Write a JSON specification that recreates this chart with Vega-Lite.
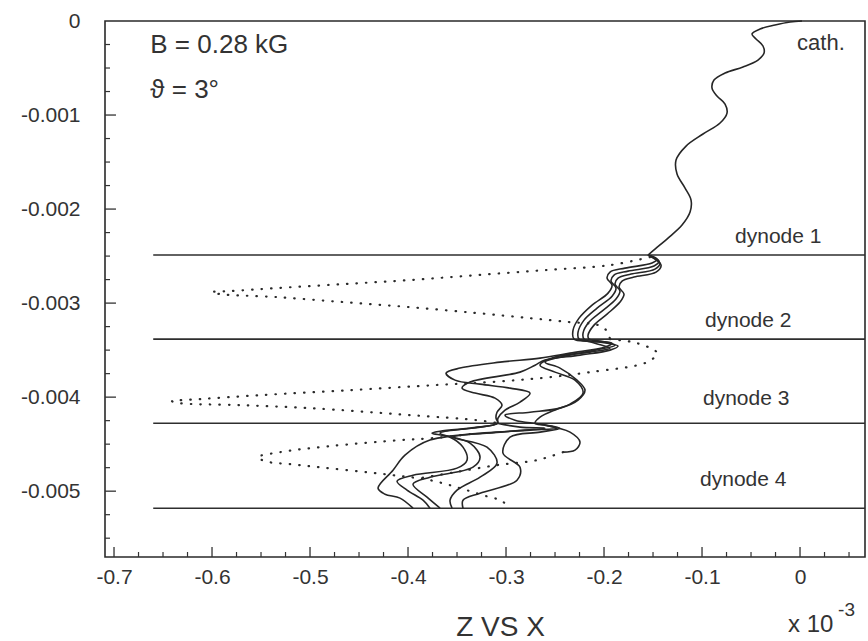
{
"$schema": "https://vega.github.io/schema/vega-lite/v6.json",
"width": 760, "height": 536,
"autosize": "none",
"padding": {"left": 105, "top": 21, "right": 3, "bottom": 84},
"background": "#ffffff",
"config": {"view": {"stroke": "#2a2a2a", "strokeWidth": 1.6}, "font": "Liberation Sans"},
"datasets": {
"dyn": [
{"x1": -0.66, "x2": 0.0663, "y": -0.002489},
{"x1": -0.66, "x2": 0.0663, "y": -0.003383},
{"x1": -0.66, "x2": 0.0663, "y": -0.004277},
{"x1": -0.66, "x2": 0.0663, "y": -0.005181}
],
"xmaj": [{"v": -0.7}, {"v": -0.6}, {"v": -0.5}, {"v": -0.4}, {"v": -0.3}, {"v": -0.2}, {"v": -0.1}, {"v": 0}],
"xmin": [{"v": -0.675}, {"v": -0.65}, {"v": -0.625}, {"v": -0.575}, {"v": -0.55}, {"v": -0.525}, {"v": -0.475}, {"v": -0.45}, {"v": -0.425}, {"v": -0.375}, {"v": -0.35}, {"v": -0.325}, {"v": -0.275}, {"v": -0.25}, {"v": -0.225}, {"v": -0.175}, {"v": -0.15}, {"v": -0.125}, {"v": -0.075}, {"v": -0.05}, {"v": -0.025}, {"v": 0.025}, {"v": 0.05}],
"ymaj": [{"v": -0.001}, {"v": -0.002}, {"v": -0.003}, {"v": -0.004}, {"v": -0.005}],
"ymin": [{"v": -0.00025}, {"v": -0.0005}, {"v": -0.00075}, {"v": -0.00125}, {"v": -0.0015}, {"v": -0.00175}, {"v": -0.00225}, {"v": -0.0025}, {"v": -0.00275}, {"v": -0.00325}, {"v": -0.0035}, {"v": -0.00375}, {"v": -0.00425}, {"v": -0.0045}, {"v": -0.00475}, {"v": -0.00525}, {"v": -0.0055}],
"info": [
{"x": -0.663, "y": -0.00034, "t": "B = 0.28 kG"},
{"x": -0.663, "y": -0.000819, "t": "ϑ = 3°"}
],
"cath": [{"x": -0.003, "y": -0.000309, "t": "cath."}],
"dlab": [
{"x": -0.0663, "y": -0.002362, "t": "dynode 1"},
{"x": -0.0969, "y": -0.003255, "t": "dynode 2"},
{"x": -0.099, "y": -0.004085, "t": "dynode 3"},
{"x": -0.102, "y": -0.004947, "t": "dynode 4"}
],
"mult": [{"x": -0.0122, "y": -0.0065, "t": "x 10"}],
"expo": [{"x": 0.0388, "y": -0.00633, "t": "-3"}],
"traj": [
{"id":"t0","kind":"solid","o":1,"x":0.002,"y":0},
{"id":"t0","kind":"solid","o":2,"x":-0.0102,"y":-0.0000106},
{"id":"t0","kind":"solid","o":3,"x":-0.0255,"y":-0.0000426},
{"id":"t0","kind":"solid","o":4,"x":-0.0408,"y":-0.0000851},
{"id":"t0","kind":"solid","o":5,"x":-0.049,"y":-0.000138},
{"id":"t0","kind":"solid","o":6,"x":-0.0449,"y":-0.000191},
{"id":"t0","kind":"solid","o":7,"x":-0.0378,"y":-0.000266},
{"id":"t0","kind":"solid","o":8,"x":-0.0367,"y":-0.00034},
{"id":"t0","kind":"solid","o":9,"x":-0.0429,"y":-0.000415},
{"id":"t0","kind":"solid","o":10,"x":-0.0582,"y":-0.000489},
{"id":"t0","kind":"solid","o":11,"x":-0.0765,"y":-0.000553},
{"id":"t0","kind":"solid","o":12,"x":-0.0878,"y":-0.000628},
{"id":"t0","kind":"solid","o":13,"x":-0.0898,"y":-0.000713},
{"id":"t0","kind":"solid","o":14,"x":-0.0847,"y":-0.000798},
{"id":"t0","kind":"solid","o":15,"x":-0.0765,"y":-0.000883},
{"id":"t0","kind":"solid","o":16,"x":-0.0745,"y":-0.000979},
{"id":"t0","kind":"solid","o":17,"x":-0.0816,"y":-0.001085},
{"id":"t0","kind":"solid","o":18,"x":-0.099,"y":-0.001202},
{"id":"t0","kind":"solid","o":19,"x":-0.1163,"y":-0.00133},
{"id":"t0","kind":"solid","o":20,"x":-0.1265,"y":-0.001479},
{"id":"t0","kind":"solid","o":21,"x":-0.1255,"y":-0.001628},
{"id":"t0","kind":"solid","o":22,"x":-0.1173,"y":-0.001777},
{"id":"t0","kind":"solid","o":23,"x":-0.1112,"y":-0.001904},
{"id":"t0","kind":"solid","o":24,"x":-0.1122,"y":-0.002032},
{"id":"t0","kind":"solid","o":25,"x":-0.1204,"y":-0.00217},
{"id":"t0","kind":"solid","o":26,"x":-0.1347,"y":-0.002309},
{"id":"t0","kind":"solid","o":27,"x":-0.148,"y":-0.002426},
{"id":"t0","kind":"solid","o":28,"x":-0.1551,"y":-0.002489},

{"id":"s0","kind":"solid","o":1,"x":-0.1551,"y":-0.002489},
{"id":"s0","kind":"solid","o":2,"x":-0.1459,"y":-0.002532},
{"id":"s0","kind":"solid","o":3,"x":-0.151,"y":-0.002574},
{"id":"s0","kind":"solid","o":4,"x":-0.1786,"y":-0.002628},
{"id":"s0","kind":"solid","o":5,"x":-0.1939,"y":-0.00267},
{"id":"s0","kind":"solid","o":6,"x":-0.1969,"y":-0.002734},
{"id":"s0","kind":"solid","o":7,"x":-0.1918,"y":-0.002809},
{"id":"s0","kind":"solid","o":8,"x":-0.1959,"y":-0.002894},
{"id":"s0","kind":"solid","o":9,"x":-0.2122,"y":-0.003021},
{"id":"s0","kind":"solid","o":10,"x":-0.2255,"y":-0.00316},
{"id":"s0","kind":"solid","o":11,"x":-0.2316,"y":-0.003287},
{"id":"s0","kind":"solid","o":12,"x":-0.2306,"y":-0.003383},
{"id":"s0","kind":"solid","o":13,"x":-0.2143,"y":-0.003404},
{"id":"s0","kind":"solid","o":14,"x":-0.1918,"y":-0.003426},
{"id":"s0","kind":"solid","o":15,"x":-0.199,"y":-0.003468},
{"id":"s0","kind":"solid","o":16,"x":-0.2347,"y":-0.003532},
{"id":"s0","kind":"solid","o":17,"x":-0.2653,"y":-0.003585},
{"id":"s0","kind":"solid","o":18,"x":-0.3061,"y":-0.003628},
{"id":"s0","kind":"solid","o":19,"x":-0.3469,"y":-0.003691},
{"id":"s0","kind":"solid","o":20,"x":-0.3612,"y":-0.003745},
{"id":"s0","kind":"solid","o":21,"x":-0.352,"y":-0.003819},
{"id":"s0","kind":"solid","o":22,"x":-0.3265,"y":-0.003862},
{"id":"s0","kind":"solid","o":23,"x":-0.2959,"y":-0.003904},
{"id":"s0","kind":"solid","o":24,"x":-0.2755,"y":-0.003957},
{"id":"s0","kind":"solid","o":25,"x":-0.2857,"y":-0.004053},
{"id":"s0","kind":"solid","o":26,"x":-0.301,"y":-0.004138},
{"id":"s0","kind":"solid","o":27,"x":-0.3082,"y":-0.004223},
{"id":"s0","kind":"solid","o":28,"x":-0.3092,"y":-0.004277},
{"id":"s0","kind":"solid","o":29,"x":-0.3265,"y":-0.004319},
{"id":"s0","kind":"solid","o":30,"x":-0.3673,"y":-0.004362},
{"id":"s0","kind":"solid","o":31,"x":-0.3755,"y":-0.004383},
{"id":"s0","kind":"solid","o":32,"x":-0.3571,"y":-0.004426},
{"id":"s0","kind":"solid","o":33,"x":-0.3439,"y":-0.004532},
{"id":"s0","kind":"solid","o":34,"x":-0.3398,"y":-0.00467},
{"id":"s0","kind":"solid","o":35,"x":-0.35,"y":-0.004755},
{"id":"s0","kind":"solid","o":36,"x":-0.3949,"y":-0.00483},
{"id":"s0","kind":"solid","o":37,"x":-0.4112,"y":-0.004894},
{"id":"s0","kind":"solid","o":38,"x":-0.401,"y":-0.004989},
{"id":"s0","kind":"solid","o":39,"x":-0.3847,"y":-0.005096},
{"id":"s0","kind":"solid","o":40,"x":-0.3776,"y":-0.005181},

{"id":"s1","kind":"solid","o":1,"x":-0.1551,"y":-0.002489},
{"id":"s1","kind":"solid","o":2,"x":-0.1439,"y":-0.002553},
{"id":"s1","kind":"solid","o":3,"x":-0.149,"y":-0.002606},
{"id":"s1","kind":"solid","o":4,"x":-0.1755,"y":-0.00266},
{"id":"s1","kind":"solid","o":5,"x":-0.1898,"y":-0.002702},
{"id":"s1","kind":"solid","o":6,"x":-0.1929,"y":-0.002766},
{"id":"s1","kind":"solid","o":7,"x":-0.1878,"y":-0.00284},
{"id":"s1","kind":"solid","o":8,"x":-0.1918,"y":-0.002926},
{"id":"s1","kind":"solid","o":9,"x":-0.2071,"y":-0.003053},
{"id":"s1","kind":"solid","o":10,"x":-0.2204,"y":-0.003181},
{"id":"s1","kind":"solid","o":11,"x":-0.2265,"y":-0.003309},
{"id":"s1","kind":"solid","o":12,"x":-0.2255,"y":-0.003383},
{"id":"s1","kind":"solid","o":13,"x":-0.2041,"y":-0.003415},
{"id":"s1","kind":"solid","o":14,"x":-0.1857,"y":-0.003457},
{"id":"s1","kind":"solid","o":15,"x":-0.1939,"y":-0.0035},
{"id":"s1","kind":"solid","o":16,"x":-0.2245,"y":-0.003553},
{"id":"s1","kind":"solid","o":17,"x":-0.2602,"y":-0.003606},
{"id":"s1","kind":"solid","o":18,"x":-0.2704,"y":-0.00366},
{"id":"s1","kind":"solid","o":19,"x":-0.2857,"y":-0.003734},
{"id":"s1","kind":"solid","o":20,"x":-0.3367,"y":-0.00384},
{"id":"s1","kind":"solid","o":21,"x":-0.3449,"y":-0.003904},
{"id":"s1","kind":"solid","o":22,"x":-0.3316,"y":-0.003957},
{"id":"s1","kind":"solid","o":23,"x":-0.3112,"y":-0.004011},
{"id":"s1","kind":"solid","o":24,"x":-0.3041,"y":-0.004085},
{"id":"s1","kind":"solid","o":25,"x":-0.3092,"y":-0.00416},
{"id":"s1","kind":"solid","o":26,"x":-0.3102,"y":-0.004223},
{"id":"s1","kind":"solid","o":27,"x":-0.3082,"y":-0.004277},
{"id":"s1","kind":"solid","o":28,"x":-0.3367,"y":-0.00433},
{"id":"s1","kind":"solid","o":29,"x":-0.3673,"y":-0.004383},
{"id":"s1","kind":"solid","o":30,"x":-0.3367,"y":-0.004489},
{"id":"s1","kind":"solid","o":31,"x":-0.3265,"y":-0.004638},
{"id":"s1","kind":"solid","o":32,"x":-0.3337,"y":-0.004745},
{"id":"s1","kind":"solid","o":33,"x":-0.3776,"y":-0.004851},
{"id":"s1","kind":"solid","o":34,"x":-0.3949,"y":-0.004926},
{"id":"s1","kind":"solid","o":35,"x":-0.3806,"y":-0.005064},
{"id":"s1","kind":"solid","o":36,"x":-0.3673,"y":-0.005181},

{"id":"s2","kind":"solid","o":1,"x":-0.1551,"y":-0.002489},
{"id":"s2","kind":"solid","o":2,"x":-0.1429,"y":-0.002574},
{"id":"s2","kind":"solid","o":3,"x":-0.148,"y":-0.002638},
{"id":"s2","kind":"solid","o":4,"x":-0.1724,"y":-0.002691},
{"id":"s2","kind":"solid","o":5,"x":-0.1857,"y":-0.002734},
{"id":"s2","kind":"solid","o":6,"x":-0.1888,"y":-0.002798},
{"id":"s2","kind":"solid","o":7,"x":-0.1837,"y":-0.002872},
{"id":"s2","kind":"solid","o":8,"x":-0.1878,"y":-0.002957},
{"id":"s2","kind":"solid","o":9,"x":-0.202,"y":-0.003085},
{"id":"s2","kind":"solid","o":10,"x":-0.2153,"y":-0.003202},
{"id":"s2","kind":"solid","o":11,"x":-0.2214,"y":-0.003319},
{"id":"s2","kind":"solid","o":12,"x":-0.2204,"y":-0.003383},
{"id":"s2","kind":"solid","o":13,"x":-0.2092,"y":-0.003426},
{"id":"s2","kind":"solid","o":14,"x":-0.1939,"y":-0.003479},
{"id":"s2","kind":"solid","o":15,"x":-0.2143,"y":-0.003521},
{"id":"s2","kind":"solid","o":16,"x":-0.25,"y":-0.003574},
{"id":"s2","kind":"solid","o":17,"x":-0.2653,"y":-0.00366},
{"id":"s2","kind":"solid","o":18,"x":-0.25,"y":-0.003734},
{"id":"s2","kind":"solid","o":19,"x":-0.2296,"y":-0.003819},
{"id":"s2","kind":"solid","o":20,"x":-0.2214,"y":-0.003957},
{"id":"s2","kind":"solid","o":21,"x":-0.2347,"y":-0.004074},
{"id":"s2","kind":"solid","o":22,"x":-0.248,"y":-0.004128},
{"id":"s2","kind":"solid","o":23,"x":-0.2653,"y":-0.004213},
{"id":"s2","kind":"solid","o":24,"x":-0.2704,"y":-0.004277},
{"id":"s2","kind":"solid","o":25,"x":-0.2602,"y":-0.004298},
{"id":"s2","kind":"solid","o":26,"x":-0.248,"y":-0.00433},
{"id":"s2","kind":"solid","o":27,"x":-0.2755,"y":-0.004351},
{"id":"s2","kind":"solid","o":28,"x":-0.3367,"y":-0.004394},
{"id":"s2","kind":"solid","o":29,"x":-0.3541,"y":-0.004426},
{"id":"s2","kind":"solid","o":30,"x":-0.3194,"y":-0.004532},
{"id":"s2","kind":"solid","o":31,"x":-0.3092,"y":-0.004702},
{"id":"s2","kind":"solid","o":32,"x":-0.3265,"y":-0.004851},
{"id":"s2","kind":"solid","o":33,"x":-0.35,"y":-0.004989},
{"id":"s2","kind":"solid","o":34,"x":-0.3571,"y":-0.005096},
{"id":"s2","kind":"solid","o":35,"x":-0.3551,"y":-0.005181},

{"id":"s3","kind":"solid","o":1,"x":-0.1551,"y":-0.002489},
{"id":"s3","kind":"solid","o":2,"x":-0.1418,"y":-0.002596},
{"id":"s3","kind":"solid","o":3,"x":-0.1469,"y":-0.00267},
{"id":"s3","kind":"solid","o":4,"x":-0.1694,"y":-0.002723},
{"id":"s3","kind":"solid","o":5,"x":-0.1816,"y":-0.002766},
{"id":"s3","kind":"solid","o":6,"x":-0.1847,"y":-0.00283},
{"id":"s3","kind":"solid","o":7,"x":-0.1796,"y":-0.002904},
{"id":"s3","kind":"solid","o":8,"x":-0.1837,"y":-0.002989},
{"id":"s3","kind":"solid","o":9,"x":-0.1969,"y":-0.003117},
{"id":"s3","kind":"solid","o":10,"x":-0.2102,"y":-0.003234},
{"id":"s3","kind":"solid","o":11,"x":-0.2163,"y":-0.00334},
{"id":"s3","kind":"solid","o":12,"x":-0.2153,"y":-0.003383},
{"id":"s3","kind":"solid","o":13,"x":-0.2041,"y":-0.003404},
{"id":"s3","kind":"solid","o":14,"x":-0.1888,"y":-0.003447},
{"id":"s3","kind":"solid","o":15,"x":-0.2092,"y":-0.0035},
{"id":"s3","kind":"solid","o":16,"x":-0.2398,"y":-0.003564},
{"id":"s3","kind":"solid","o":17,"x":-0.2602,"y":-0.003628},
{"id":"s3","kind":"solid","o":18,"x":-0.2449,"y":-0.003691},
{"id":"s3","kind":"solid","o":19,"x":-0.2276,"y":-0.003819},
{"id":"s3","kind":"solid","o":20,"x":-0.2194,"y":-0.003926},
{"id":"s3","kind":"solid","o":21,"x":-0.2265,"y":-0.004032},
{"id":"s3","kind":"solid","o":22,"x":-0.2449,"y":-0.004117},
{"id":"s3","kind":"solid","o":23,"x":-0.2755,"y":-0.00416},
{"id":"s3","kind":"solid","o":24,"x":-0.301,"y":-0.004191},
{"id":"s3","kind":"solid","o":25,"x":-0.2908,"y":-0.004245},
{"id":"s3","kind":"solid","o":26,"x":-0.2653,"y":-0.004287},
{"id":"s3","kind":"solid","o":27,"x":-0.2449,"y":-0.00433},
{"id":"s3","kind":"solid","o":28,"x":-0.2653,"y":-0.004372},
{"id":"s3","kind":"solid","o":29,"x":-0.2959,"y":-0.004426},
{"id":"s3","kind":"solid","o":30,"x":-0.3031,"y":-0.004596},
{"id":"s3","kind":"solid","o":31,"x":-0.2857,"y":-0.004745},
{"id":"s3","kind":"solid","o":32,"x":-0.2888,"y":-0.004883},
{"id":"s3","kind":"solid","o":33,"x":-0.3265,"y":-0.005021},
{"id":"s3","kind":"solid","o":34,"x":-0.3439,"y":-0.005096},
{"id":"s3","kind":"solid","o":35,"x":-0.3439,"y":-0.005181},

{"id":"s4","kind":"solid","o":1,"x":-0.3092,"y":-0.004277},
{"id":"s4","kind":"solid","o":2,"x":-0.2857,"y":-0.004319},
{"id":"s4","kind":"solid","o":3,"x":-0.2602,"y":-0.00433},
{"id":"s4","kind":"solid","o":4,"x":-0.3061,"y":-0.004372},
{"id":"s4","kind":"solid","o":5,"x":-0.3776,"y":-0.004457},
{"id":"s4","kind":"solid","o":6,"x":-0.4031,"y":-0.004617},
{"id":"s4","kind":"solid","o":7,"x":-0.4153,"y":-0.004777},
{"id":"s4","kind":"solid","o":8,"x":-0.4306,"y":-0.004968},
{"id":"s4","kind":"solid","o":9,"x":-0.4235,"y":-0.005032},
{"id":"s4","kind":"solid","o":10,"x":-0.4082,"y":-0.005074},
{"id":"s4","kind":"solid","o":11,"x":-0.3949,"y":-0.005181},

{"id":"s5","kind":"solid","o":1,"x":-0.2602,"y":-0.004298},
{"id":"s5","kind":"solid","o":2,"x":-0.2347,"y":-0.004372},
{"id":"s5","kind":"solid","o":3,"x":-0.2245,"y":-0.004479},
{"id":"s5","kind":"solid","o":4,"x":-0.2296,"y":-0.004564},
{"id":"s5","kind":"solid","o":5,"x":-0.2418,"y":-0.004585},

{"id":"d1","kind":"dot","o":1,"x":-0.1531,"y":-0.002511},
{"id":"d1","kind":"dot","o":2,"x":-0.1939,"y":-0.002596},
{"id":"d1","kind":"dot","o":3,"x":-0.2602,"y":-0.002649},
{"id":"d1","kind":"dot","o":4,"x":-0.3296,"y":-0.002702},
{"id":"d1","kind":"dot","o":5,"x":-0.398,"y":-0.002755},
{"id":"d1","kind":"dot","o":6,"x":-0.4663,"y":-0.002798},
{"id":"d1","kind":"dot","o":7,"x":-0.5337,"y":-0.00284},
{"id":"d1","kind":"dot","o":8,"x":-0.5816,"y":-0.002872},
{"id":"d1","kind":"dot","o":9,"x":-0.6,"y":-0.002883},
{"id":"d1","kind":"dot","o":10,"x":-0.5918,"y":-0.002904},
{"id":"d1","kind":"dot","o":11,"x":-0.5337,"y":-0.002936},
{"id":"d1","kind":"dot","o":12,"x":-0.4663,"y":-0.002989},
{"id":"d1","kind":"dot","o":13,"x":-0.398,"y":-0.003043},
{"id":"d1","kind":"dot","o":14,"x":-0.3296,"y":-0.003106},
{"id":"d1","kind":"dot","o":15,"x":-0.2755,"y":-0.00316},
{"id":"d1","kind":"dot","o":16,"x":-0.2347,"y":-0.003202},
{"id":"d1","kind":"dot","o":17,"x":-0.2061,"y":-0.003234},
{"id":"d1","kind":"dot","o":18,"x":-0.1969,"y":-0.003298},
{"id":"d1","kind":"dot","o":19,"x":-0.1939,"y":-0.003383},

{"id":"d2","kind":"dot","o":1,"x":-0.1939,"y":-0.003383},
{"id":"d2","kind":"dot","o":2,"x":-0.1663,"y":-0.003426},
{"id":"d2","kind":"dot","o":3,"x":-0.1459,"y":-0.003532},
{"id":"d2","kind":"dot","o":4,"x":-0.1561,"y":-0.003628},
{"id":"d2","kind":"dot","o":5,"x":-0.2143,"y":-0.003734},
{"id":"d2","kind":"dot","o":6,"x":-0.2653,"y":-0.003798},
{"id":"d2","kind":"dot","o":7,"x":-0.3163,"y":-0.00384},
{"id":"d2","kind":"dot","o":8,"x":-0.3724,"y":-0.003872},
{"id":"d2","kind":"dot","o":9,"x":-0.4592,"y":-0.003926},
{"id":"d2","kind":"dot","o":10,"x":-0.551,"y":-0.003979},
{"id":"d2","kind":"dot","o":11,"x":-0.6122,"y":-0.004021},
{"id":"d2","kind":"dot","o":12,"x":-0.6408,"y":-0.004043},
{"id":"d2","kind":"dot","o":13,"x":-0.6327,"y":-0.004064},
{"id":"d2","kind":"dot","o":14,"x":-0.5714,"y":-0.004085},
{"id":"d2","kind":"dot","o":15,"x":-0.5,"y":-0.004117},
{"id":"d2","kind":"dot","o":16,"x":-0.398,"y":-0.004191},
{"id":"d2","kind":"dot","o":17,"x":-0.3296,"y":-0.004245},
{"id":"d2","kind":"dot","o":18,"x":-0.3082,"y":-0.004277},

{"id":"d3","kind":"dot","o":1,"x":-0.3367,"y":-0.004394},
{"id":"d3","kind":"dot","o":2,"x":-0.3745,"y":-0.004436},
{"id":"d3","kind":"dot","o":3,"x":-0.4082,"y":-0.004457},
{"id":"d3","kind":"dot","o":4,"x":-0.4796,"y":-0.004521},
{"id":"d3","kind":"dot","o":5,"x":-0.5306,"y":-0.004585},
{"id":"d3","kind":"dot","o":6,"x":-0.5531,"y":-0.004638},
{"id":"d3","kind":"dot","o":7,"x":-0.5459,"y":-0.004681},
{"id":"d3","kind":"dot","o":8,"x":-0.5102,"y":-0.004723},
{"id":"d3","kind":"dot","o":9,"x":-0.4153,"y":-0.00483},
{"id":"d3","kind":"dot","o":10,"x":-0.3776,"y":-0.004883},
{"id":"d3","kind":"dot","o":11,"x":-0.3469,"y":-0.004968},
{"id":"d3","kind":"dot","o":12,"x":-0.3235,"y":-0.005043},
{"id":"d3","kind":"dot","o":13,"x":-0.3061,"y":-0.005096},
{"id":"d3","kind":"dot","o":14,"x":-0.2959,"y":-0.00517},

{"id":"d4","kind":"dot","o":1,"x":-0.2418,"y":-0.004585},
{"id":"d4","kind":"dot","o":2,"x":-0.2684,"y":-0.00467},
{"id":"d4","kind":"dot","o":3,"x":-0.3092,"y":-0.004723},
{"id":"d4","kind":"dot","o":4,"x":-0.352,"y":-0.004798},
{"id":"d4","kind":"dot","o":5,"x":-0.3878,"y":-0.004862}
]
},
"layer": [
{
"data": {"name": "dyn"},
"mark": {"type": "rule", "stroke": "#2e2e2e", "strokeWidth": 1.6},
"encoding": {
"x": {"field": "x1", "type": "quantitative",
"scale": {"domain": [-0.7092, 0.0663], "nice": false, "zero": false},
"axis": {"orient": "bottom", "values": [-0.7, -0.6, -0.5, -0.4, -0.3, -0.2, -0.1, 0],
"labelExpr": "datum.value == 0 ? '0' : '-' + format(-datum.value, '.1f')",
"domain": false, "grid": false, "ticks": false, "tickSize": 0,
"labelFont": "Liberation Sans", "labelFontSize": 21, "labelColor": "#333333", "labelPadding": 9,
"labelFlush": false, "labelOverlap": false,
"title": "Z VS X", "titleFont": "Liberation Sans", "titleFontSize": 28, "titleFontWeight": "normal",
"titleColor": "#333333", "titleX": 395, "titleY": 78, "titleAlign": "center", "titleBaseline": "alphabetic"}},
"x2": {"field": "x2"},
"y": {"field": "y", "type": "quantitative",
"scale": {"domain": [-0.0057, 0], "nice": false, "zero": false},
"axis": {"orient": "left", "values": [0, -0.001, -0.002, -0.003, -0.004, -0.005],
"labelExpr": "datum.value == 0 ? '0' : '-' + format(-datum.value, '.3f')",
"domain": false, "grid": false, "ticks": false, "tickSize": 0,
"labelFont": "Liberation Sans", "labelFontSize": 21, "labelColor": "#333333", "labelPadding": 25,
"labelFlush": false, "labelOverlap": false, "title": null}}
}
},
{
"data": {"name": "xmaj"},
"mark": {"type": "rule", "stroke": "#333333", "strokeWidth": 1.3},
"encoding": {
"x": {"field": "v", "type": "quantitative", "scale": {"domain": [-0.7092, 0.0663], "nice": false, "zero": false}},
"y": {"datum": -0.0057, "type": "quantitative", "scale": {"domain": [-0.0057, 0], "nice": false, "zero": false}},
"y2": {"datum": -0.005594}
}
},
{
"data": {"name": "xmin"},
"mark": {"type": "rule", "stroke": "#333333", "strokeWidth": 1.2},
"encoding": {
"x": {"field": "v", "type": "quantitative", "scale": {"domain": [-0.7092, 0.0663], "nice": false, "zero": false}},
"y": {"datum": -0.0057, "type": "quantitative", "scale": {"domain": [-0.0057, 0], "nice": false, "zero": false}},
"y2": {"datum": -0.005647}
}
},
{
"data": {"name": "ymaj"},
"mark": {"type": "rule", "stroke": "#333333", "strokeWidth": 1.3},
"encoding": {
"y": {"field": "v", "type": "quantitative", "scale": {"domain": [-0.0057, 0], "nice": false, "zero": false}},
"x": {"datum": -0.7092, "type": "quantitative", "scale": {"domain": [-0.7092, 0.0663], "nice": false, "zero": false}},
"x2": {"datum": -0.698}
}
},
{
"data": {"name": "ymin"},
"mark": {"type": "rule", "stroke": "#333333", "strokeWidth": 1.2},
"encoding": {
"y": {"field": "v", "type": "quantitative", "scale": {"domain": [-0.0057, 0], "nice": false, "zero": false}},
"x": {"datum": -0.7092, "type": "quantitative", "scale": {"domain": [-0.7092, 0.0663], "nice": false, "zero": false}},
"x2": {"datum": -0.7041}
}
},
{
"data": {"name": "traj"},
"transform": [{"filter": "datum.kind === 'solid'"}],
"mark": {"type": "line", "stroke": "#262626", "strokeWidth": 1.6, "interpolate": "catmull-rom"},
"encoding": {
"x": {"field": "x", "type": "quantitative", "scale": {"domain": [-0.7092, 0.0663], "nice": false, "zero": false}},
"y": {"field": "y", "type": "quantitative", "scale": {"domain": [-0.0057, 0], "nice": false, "zero": false}},
"detail": {"field": "id"},
"order": {"field": "o", "type": "quantitative"}
}
},
{
"data": {"name": "traj"},
"transform": [{"filter": "datum.kind === 'dot'"}],
"mark": {"type": "line", "stroke": "#2a2a2a", "strokeWidth": 2.2, "strokeDash": [0.5, 9], "strokeCap": "round", "interpolate": "catmull-rom"},
"encoding": {
"x": {"field": "x", "type": "quantitative", "scale": {"domain": [-0.7092, 0.0663], "nice": false, "zero": false}},
"y": {"field": "y", "type": "quantitative", "scale": {"domain": [-0.0057, 0], "nice": false, "zero": false}},
"detail": {"field": "id"},
"order": {"field": "o", "type": "quantitative"}
}
},
{
"data": {"name": "info"},
"mark": {"type": "text", "font": "Liberation Sans", "fontSize": 26, "align": "left", "baseline": "alphabetic", "color": "#333333"},
"encoding": {
"x": {"field": "x", "type": "quantitative", "scale": {"domain": [-0.7092, 0.0663], "nice": false, "zero": false}},
"y": {"field": "y", "type": "quantitative", "scale": {"domain": [-0.0057, 0], "nice": false, "zero": false}},
"text": {"field": "t"}
}
},
{
"data": {"name": "cath"},
"mark": {"type": "text", "font": "Liberation Sans", "fontSize": 22, "align": "left", "baseline": "alphabetic", "color": "#333333"},
"encoding": {
"x": {"field": "x", "type": "quantitative", "scale": {"domain": [-0.7092, 0.0663], "nice": false, "zero": false}},
"y": {"field": "y", "type": "quantitative", "scale": {"domain": [-0.0057, 0], "nice": false, "zero": false}},
"text": {"field": "t"}
}
},
{
"data": {"name": "dlab"},
"mark": {"type": "text", "font": "Liberation Sans", "fontSize": 21, "align": "left", "baseline": "alphabetic", "color": "#333333"},
"encoding": {
"x": {"field": "x", "type": "quantitative", "scale": {"domain": [-0.7092, 0.0663], "nice": false, "zero": false}},
"y": {"field": "y", "type": "quantitative", "scale": {"domain": [-0.0057, 0], "nice": false, "zero": false}},
"text": {"field": "t"}
}
},
{
"data": {"name": "mult"},
"mark": {"type": "text", "font": "Liberation Sans", "fontSize": 24, "align": "left", "baseline": "alphabetic", "color": "#333333", "clip": false},
"encoding": {
"x": {"field": "x", "type": "quantitative", "scale": {"domain": [-0.7092, 0.0663], "nice": false, "zero": false}},
"y": {"field": "y", "type": "quantitative", "scale": {"domain": [-0.0057, 0], "nice": false, "zero": false}},
"text": {"field": "t"}
}
},
{
"data": {"name": "expo"},
"mark": {"type": "text", "font": "Liberation Sans", "fontSize": 19, "align": "left", "baseline": "alphabetic", "color": "#333333", "clip": false},
"encoding": {
"x": {"field": "x", "type": "quantitative", "scale": {"domain": [-0.7092, 0.0663], "nice": false, "zero": false}},
"y": {"field": "y", "type": "quantitative", "scale": {"domain": [-0.0057, 0], "nice": false, "zero": false}},
"text": {"field": "t"}
}
}
]
}
